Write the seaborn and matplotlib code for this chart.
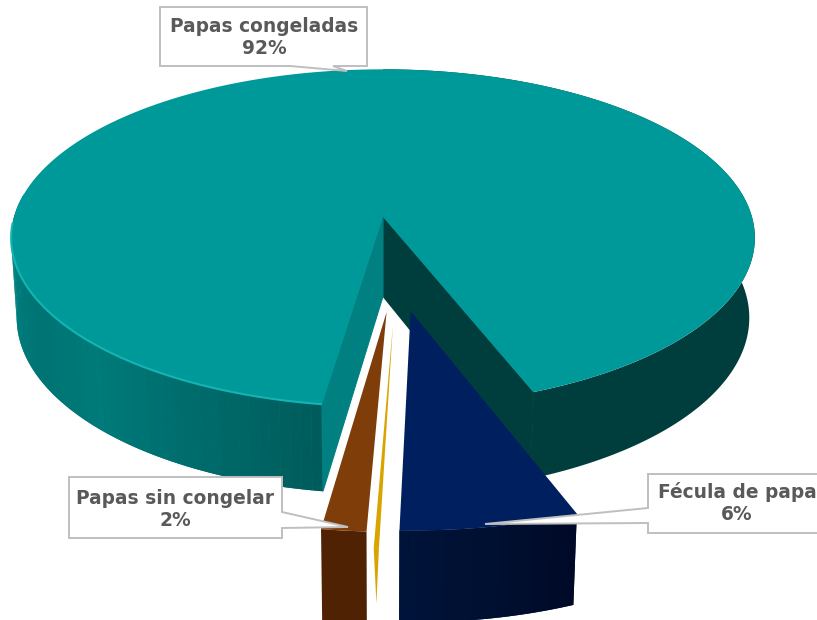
import numpy as np
import matplotlib
matplotlib.use("Agg")
import matplotlib.pyplot as plt
import seaborn as sns

# shares in %, walking round the pie from START_DEG
categories = ["Papas congeladas", "Papas sin congelar", "Otros", "Fécula de papa"]
shares = [91.82, 1.6, 0.18, 6.4]

# look of each slice
top_colors = ["#009999", "#7f3d0a", "#d9a300", "#001f5f"]
explode_uv = [(0.0, 0.0), (0.009, -0.535), (0.025, -0.6), (0.07, -0.53)]

START_DEG = 21.1  # measured from straight down, going to the right
CX, CY = 383, 217
R, S, H = 369, 166, 80.5
P, Q = 0.124, 0.015
SLIVER_TAPER = 0.6  # the thin slice's wall narrows to a point

sns.set_theme(style="white")
plt.rcParams["font.family"] = ["DejaVu Sans"]


def project(u, v, bottom=False):
    w = 1 + P * v + (Q if bottom else 0)
    x = CX + R * u / w
    y = CY + (-S * v + (H if bottom else 0)) / w
    return x, y


def arc(a0, a1, off, n=200, bottom=False):
    a = np.radians(np.linspace(a0, a1, n))
    return project(np.sin(a) + off[0], -np.cos(a) + off[1], bottom)


def draw_side(ax, a0, a1, off, palette, z):
    # whole wall first, so no seams show between the strips
    xt, yt = arc(a0, a1, off)
    xb, yb = arc(a0, a1, off, bottom=True)
    ax.fill(np.r_[xt, xb[::-1]], np.r_[yt, yb[::-1]], color=palette[len(palette) // 2], lw=0, zorder=z)
    if len(palette) == 1:
        return
    edges = np.linspace(a0, a1, len(palette) + 1)
    for i, col in enumerate(palette):
        xt, yt = arc(edges[i], edges[i + 1], off, n=6)
        xb, yb = arc(edges[i], edges[i + 1], off, n=6, bottom=True)
        ax.fill(np.r_[xt, xb[::-1]], np.r_[yt, yb[::-1]], color=col, lw=0, zorder=z)


def draw_top(ax, a0, a1, off, col, z):
    x, y = arc(a0, a1, off)
    cx, cy = project(off[0], off[1])
    ax.fill(np.r_[cx, x], np.r_[cy, y], color=col, lw=0, zorder=z)


def draw_inner(ax, ang, col, z):
    x0, y0 = project(0, 0)
    x1, y1 = project(0, 0, bottom=True)
    a = np.radians(ang)
    x2, y2 = project(np.sin(a), -np.cos(a))
    x3, y3 = project(np.sin(a), -np.cos(a), bottom=True)
    ax.fill([x0, x2, x3, x1], [y0, y2, y3, y1], color=col, lw=0.8, zorder=z)


def draw_sliver(ax, a0, a1, off, col, z):
    xt, yt = arc(a0, a1, off, n=2)
    xb, yb = arc(a0, a1, off, n=2, bottom=True)
    tip_x = xt.mean() + SLIVER_TAPER * (xb.mean() - xt.mean())
    tip_y = yt.mean() + SLIVER_TAPER * (yb.mean() - yt.mean())
    ax.fill(np.r_[xt, tip_x], np.r_[yt, tip_y], color=col, lw=0, zorder=z)


def callout(ax, outline, tx, ty, text):
    xs, ys = zip(*outline)
    ax.fill(xs, ys, facecolor="white", edgecolor="#bfbfbf", lw=1.4, zorder=20)
    ax.text(tx, ty, text, ha="center", va="center", color="#595959", fontsize=13.4,
            fontweight="bold", linespacing=1.2, zorder=21)


fig = plt.figure(figsize=(8.17, 6.2), dpi=100)
ax = fig.add_axes([0, 0, 1, 1])
ax.set_xlim(0, 817)
ax.set_ylim(620, 0)
ax.axis("off")

ends = START_DEG + np.cumsum(np.array(shares) * 3.6)
starts = np.r_[START_DEG, ends[:-1]]

# big slice
a0, a1 = starts[0], ends[0]
draw_side(ax, a0, 180, explode_uv[0], ["#003d3d"], 2)
left_pal = sns.blend_palette(["#008f8f", "#008080", "#007373", "#007a7a", "#006b6b", "#005c5c"], 60)
draw_side(ax, 262, a1, explode_uv[0], left_pal, 2)
draw_inner(ax, a0, "#003d3d", 3)
draw_inner(ax, a1, "#008080", 3)
draw_top(ax, a0, a1, explode_uv[0], top_colors[0], 4)
rx, ry = arc(272, a1, explode_uv[0])
ax.plot(rx, ry, color="#14b4b4", lw=1.5, zorder=5, solid_capstyle="butt")

# small slices, pulled out
fecula_pal = sns.blend_palette(["#00133a", "#001030", "#000a28"], 20)
draw_side(ax, starts[3], ends[3], explode_uv[3], fecula_pal, 6)
draw_top(ax, starts[3], ends[3], explode_uv[3], top_colors[3], 7)
draw_sliver(ax, starts[2], ends[2], explode_uv[2], top_colors[2], 8)
draw_top(ax, starts[2], ends[2], explode_uv[2], top_colors[2], 8)
draw_side(ax, starts[1], ends[1], explode_uv[1], ["#4f2203"], 9)
draw_top(ax, starts[1], ends[1], explode_uv[1], top_colors[1], 10)

labels = [f"{categories[i]}\n{round(shares[i])}%" for i in (0, 1, 3)]
callout(ax, [(160, 7), (367, 7), (367, 66), (333, 66), (347, 71), (290, 66), (160, 66), (160, 7)],
        264, 38, labels[0])
callout(ax, [(69, 477), (282, 477), (282, 512), (348, 527), (282, 528), (282, 538), (69, 538), (69, 477)],
        175, 510, labels[1])
callout(ax, [(648, 474), (835, 474), (835, 533), (648, 533), (648, 523), (485, 524), (648, 508), (648, 474)],
        737, 503, labels[2])

fig.savefig("out.png", dpi=100)
